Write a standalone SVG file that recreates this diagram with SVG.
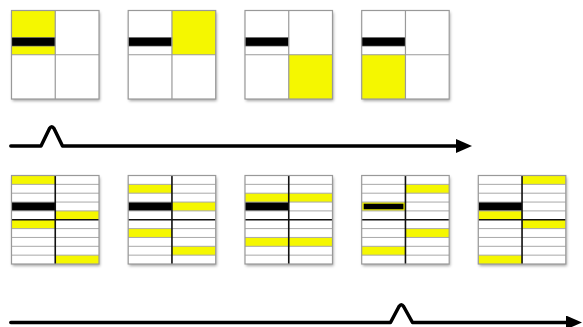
<svg xmlns="http://www.w3.org/2000/svg" xmlns:xlink="http://www.w3.org/1999/xlink" width="583" height="327" viewBox="0 0 583 327">
<style>
.bg{fill:#fff;filter:url(#sh)}
.y{fill:#f5f700}
.k{fill:#000}
.g{stroke:#a8a8a8;stroke-width:1;fill:none}
.m{stroke:#111;stroke-width:1.6;fill:none}
.gm{stroke:#9a9a9a;stroke-width:1.2;fill:none}
.b{stroke:#999;stroke-width:1.2;fill:none}
.arr{stroke:#000;stroke-width:3.5;fill:none;stroke-linecap:round;stroke-linejoin:round}
</style>
<defs>
<filter id="sh" x="-10%" y="-10%" width="125%" height="125%">
<feDropShadow dx="1" dy="2" stdDeviation="1.5" flood-color="#000" flood-opacity="0.35"/>
</filter>
<marker id="ah" markerUnits="userSpaceOnUse" markerWidth="18" markerHeight="16" refX="2" refY="7" orient="auto">
<path d="M0,0 L16,7 L0,14 z" fill="#000"/>
</marker>
<g id="grid10">
<path class="g" d="M0,8.85H87.5M0,17.7H87.5M0,26.55H87.5M0,35.4H87.5M0,53.1H87.5M0,61.95H87.5M0,70.8H87.5M0,79.65H87.5"/>
<path class="m" d="M0,44.25H87.5M43.75,0V88.5"/>
<rect class="b" x="0" y="0" width="87.5" height="88.5"/>
</g>
<g id="grid4">
<path class="gm" d="M0,44.25H87.5M43.75,0V88.5"/>
<rect class="b" x="0" y="0" width="87.5" height="88.5"/>
</g>
<rect id="bar" x="0" y="26.8" width="43.75" height="8.8" fill="#000" stroke="#888" stroke-width="0.6"/>
</defs>

<g id="top1" transform="translate(11.5,10.5)">
<rect class="bg" width="87.5" height="88.5"/>
<rect class="y" x="0" y="0" width="43.75" height="44.25"/>
<use xlink:href="#bar"/>
<use xlink:href="#grid4"/>
</g>
<g id="top2" transform="translate(128.2,10.5)">
<rect class="bg" width="87.5" height="88.5"/>
<rect class="y" x="43.75" y="0" width="43.75" height="44.25"/>
<use xlink:href="#bar"/>
<use xlink:href="#grid4"/>
</g>
<g id="top3" transform="translate(245,10.5)">
<rect class="bg" width="87.5" height="88.5"/>
<rect class="y" x="43.75" y="44.25" width="43.75" height="44.25"/>
<use xlink:href="#bar"/>
<use xlink:href="#grid4"/>
</g>
<g id="top4" transform="translate(361.7,10.5)">
<rect class="bg" width="87.5" height="88.5"/>
<rect class="y" x="0" y="44.25" width="43.75" height="44.25"/>
<use xlink:href="#bar"/>
<use xlink:href="#grid4"/>
</g>

<g id="bot1" transform="translate(11.5,175.5)">
<rect class="bg" width="87.5" height="88.5"/>
<rect class="y" x="0" y="0" width="43.75" height="8.85"/>
<rect class="k" x="0" y="26.55" width="43.75" height="8.85"/>
<rect class="y" x="43.75" y="35.4" width="43.75" height="8.85"/>
<rect class="y" x="0" y="44.25" width="43.75" height="8.85"/>
<rect class="y" x="43.75" y="79.65" width="43.75" height="8.85"/>
<use xlink:href="#grid10"/>
</g>
<g id="bot2" transform="translate(128.2,175.5)">
<rect class="bg" width="87.5" height="88.5"/>
<rect class="y" x="0" y="8.85" width="43.75" height="8.85"/>
<rect class="k" x="0" y="26.55" width="43.75" height="8.85"/>
<rect class="y" x="43.75" y="26.55" width="43.75" height="8.85"/>
<rect class="y" x="0" y="53.1" width="43.75" height="8.85"/>
<rect class="y" x="43.75" y="70.8" width="43.75" height="8.85"/>
<use xlink:href="#grid10"/>
</g>
<g id="bot3" transform="translate(245,175.5)">
<rect class="bg" width="87.5" height="88.5"/>
<rect class="y" x="0" y="17.7" width="87.5" height="8.85"/>
<rect class="k" x="0" y="26.55" width="43.75" height="8.85"/>
<rect class="y" x="0" y="61.95" width="87.5" height="8.85"/>
<use xlink:href="#grid10"/>
</g>
<g id="bot4" transform="translate(361.7,175.5)">
<rect class="bg" width="87.5" height="88.5"/>
<rect class="y" x="43.75" y="8.85" width="43.75" height="8.85"/>
<rect class="y" x="0" y="26.55" width="43.75" height="8.85"/>
<rect class="k" x="2" y="28.2" width="39.75" height="5.6"/>
<rect class="y" x="43.75" y="53.1" width="43.75" height="8.85"/>
<rect class="y" x="0" y="70.8" width="43.75" height="8.85"/>
<use xlink:href="#grid10"/>
</g>
<g id="bot5" transform="translate(478.3,175.5)">
<rect class="bg" width="87.5" height="88.5"/>
<rect class="y" x="43.75" y="0" width="43.75" height="8.85"/>
<rect class="k" x="0" y="26.55" width="43.75" height="8.85"/>
<rect class="y" x="0" y="35.4" width="43.75" height="8.85"/>
<rect class="y" x="43.75" y="44.25" width="43.75" height="8.85"/>
<rect class="y" x="0" y="79.65" width="43.75" height="8.85"/>
<use xlink:href="#grid10"/>
</g>

<g id="connectors">
<path class="arr" d="M10.8,146 H41 L49.5,128.5 Q51.7,125 54,128.5 L62.5,146 H458" marker-end="url(#ah)"/>
<path class="arr" d="M10.8,322.5 H390.5 L399,306.5 Q401.3,303 403.6,306.5 L412.5,322.5 H568" marker-end="url(#ah)"/>
</g>
</svg>
